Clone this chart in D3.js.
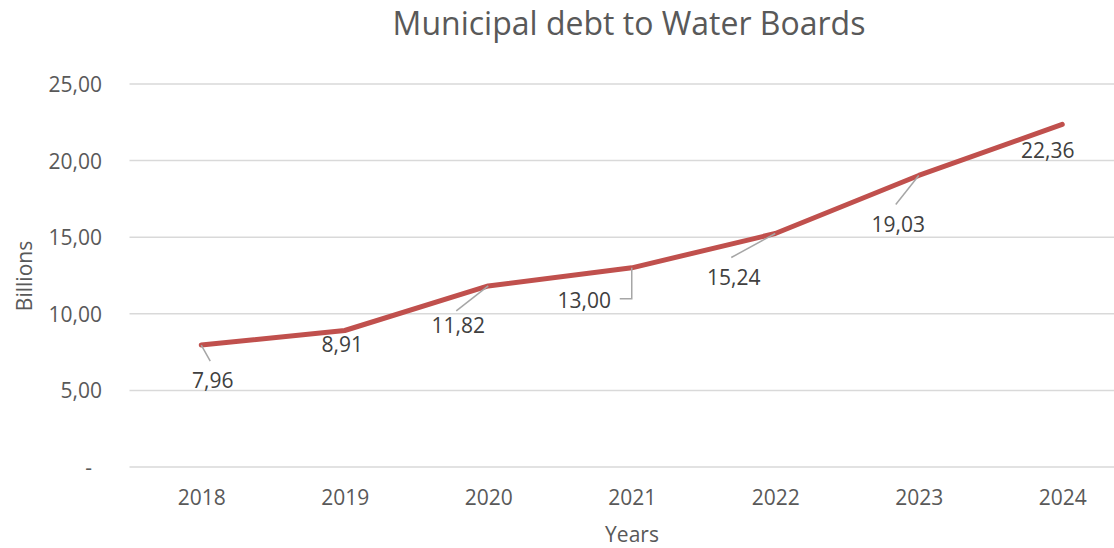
<!DOCTYPE html>
<html>
<head>
<meta charset="utf-8">
<script src="https://cdn.jsdelivr.net/npm/d3@7"></script>
<style>
html,body{margin:0;padding:0;background:#fff;}
svg{display:block;}
text{font-family:"Open Sans",sans-serif;}
</style>
</head>
<body>
<svg id="chart" width="1114" height="548"></svg>
<script>
// ---- data ----
const years = ["2018","2019","2020","2021","2022","2023","2024"];
const debt = [7.96, 8.91, 11.82, 13.00, 15.24, 19.03, 22.36];
const valueLabels = ["7,96","8,91","11,82","13,00","15,24","19,03","22,36"];
const yTicks = [0, 5, 10, 15, 20, 25];
const yTickLabels = ["-", "5,00", "10,00", "15,00", "20,00", "25,00"];
const title = "Municipal debt to Water Boards";
const xTitle = "Years";
const yTitle = "Billions";

// ---- layout (label placement offsets from each point, in px) ----
const labelOffsets = [[11.5,43],[-2.5,21.5],[-30,47],[-47.5,40],[-41.5,51.5],[-20.5,56.5],[-14.5,33.5]];
// leader line end points relative to point; null = no leader
const leaders = [
  [[0,0],[9,16]],
  null,
  [[0,0],[-32,25]],
  [[0,0],[0,31],[-12,31]],
  [[0,0],[-44,24]],
  [[0,0],[-23,29]],
  null
];

(function () {
const svg = d3.select("#chart");
const plotLeft = 129.5, plotRight = 1134, plotTop = 84, plotBottom = 467;

const x = d3.scalePoint().domain(years).range([plotLeft, plotRight]).padding(0.5);
const y = d3.scaleLinear().domain([0, 25]).range([plotBottom, plotTop]);

// gridlines
svg.append("g").selectAll("line").data(yTicks).join("line")
  .attr("x1", plotLeft).attr("x2", plotRight)
  .attr("y1", d => y(d)).attr("y2", d => y(d))
  .attr("stroke", "#d9d9d9").attr("stroke-width", 1.5);

// y axis labels
const yAxis = d3.axisLeft(y).tickValues(yTicks).tickSize(0).tickPadding(0)
  .tickFormat((d, i) => yTickLabels[i]);
const yg = svg.append("g").attr("transform", `translate(102,0)`).call(yAxis);
yg.select(".domain").remove();
yg.selectAll("text").attr("font-size", 21).attr("fill", "#595959")
  .attr("font-family", "Open Sans, sans-serif").attr("dy", "0.36em")
  .attr("dx", d => d === 0 ? -10 : 0);

// x axis labels
const xAxis = d3.axisBottom(x).tickSize(0).tickPadding(0);
const xg = svg.append("g").attr("transform", `translate(0,505)`).call(xAxis);
xg.select(".domain").remove();
xg.selectAll("text").attr("font-size", 21).attr("fill", "#595959")
  .attr("font-family", "Open Sans, sans-serif").attr("dy", 0);

// line
const line = d3.line().x((d, i) => x(years[i])).y(d => y(d));
svg.append("path").datum(debt)
  .attr("d", line).attr("fill", "none")
  .attr("stroke", "#c0504d").attr("stroke-width", 5)
  .attr("stroke-linecap", "round").attr("stroke-linejoin", "round");

// leader lines
debt.forEach((v, i) => {
  if (!leaders[i]) return;
  const px = x(years[i]), py = y(v);
  svg.append("polyline")
    .attr("points", leaders[i].map(p => `${px + p[0]},${py + p[1]}`).join(" "))
    .attr("fill", "none").attr("stroke", "#a6a6a6").attr("stroke-width", 1.5);
});

// data labels
svg.append("g").selectAll("text").data(debt).join("text")
  .attr("x", (d, i) => x(years[i]) + labelOffsets[i][0])
  .attr("y", (d, i) => y(d) + labelOffsets[i][1])
  .attr("text-anchor", "middle").attr("font-size", 21).attr("fill", "#404040")
  .text((d, i) => valueLabels[i]);

// titles
svg.append("text").attr("x", 629).attr("y", 35).attr("text-anchor", "middle")
  .attr("font-size", 32).attr("fill", "#595959").text(title);
svg.append("text").attr("x", 632).attr("y", 542).attr("text-anchor", "middle")
  .attr("font-size", 21).attr("fill", "#595959").text(xTitle);
svg.append("text").attr("transform", "translate(32,276) rotate(-90)").attr("text-anchor", "middle")
  .attr("font-size", 21).attr("fill", "#595959").text(yTitle);
})();
</script>
</body>
</html>
